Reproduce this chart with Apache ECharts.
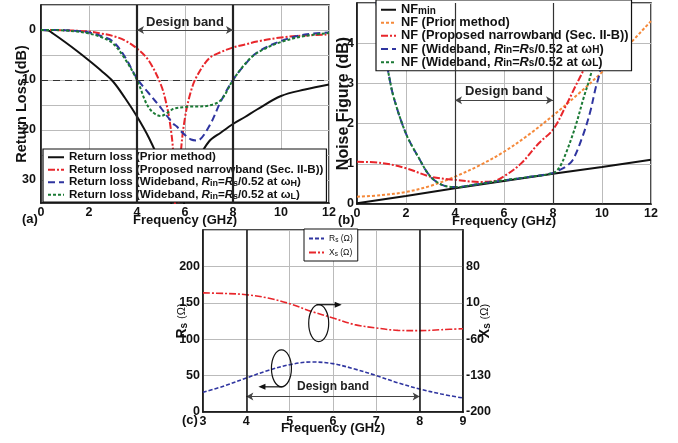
<!DOCTYPE html>
<html>
<head>
<meta charset="utf-8">
<script src="https://cdn.jsdelivr.net/npm/echarts@6/dist/echarts.min.js"></script>
<style>
html, body { margin: 0; padding: 0; background: #fff; }
#chart { width: 678px; height: 443px; }
</style>
</head>
<body>
<div id="chart"></div>
<script>
var FONT = "'Liberation Sans', Arial, sans-serif";

// ---- (a) return loss, dB (positive downwards) ----
var freqA = [0, 0.3, 0.5, 1, 1.5, 2, 2.5, 3, 3.5, 4, 4.5, 5, 5.25, 5.4, 5.5, 5.66, 5.82, 6, 6.25, 6.5, 7, 7.5, 8, 8.5, 9, 10, 11, 12];
var rlPrior  = [0, 0.1, 0.7, 2.4, 4.2, 6.1, 8.1, 10.3, 13.6, 17.3, 21.6, 27, 31, 34, 36, 38, 37, 34, 29.5, 26.3, 22.3, 20.5, 18.8, 17.4, 15.9, 13.2, 11.9, 10.9];
var rlNarrow = [0, 0, 0, 0.05, 0.15, 0.3, 0.7, 1.2, 2.1, 3.7, 6.2, 11, 15.3, 19.5, 24, 42, 25, 17.5, 12.2, 9.2, 5.7, 4.4, 3.5, 2.9, 2.3, 1.5, 1.1, 0.9];
var rlWideH  = [0, 0, 0, 0.05, 0.2, 0.5, 1.2, 2.3, 5.4, 9.7, 12.7, 15.6, 17.2, 18.1, 18.7, 19.3, 20.2, 21.0, 21.9, 22.1, 19.3, 14.2, 10, 6.9, 4.5, 2.2, 0.9, 0.5];
var rlWideL  = [0, 0, 0, 0.1, 0.3, 0.7, 1.4, 2.7, 5.8, 10, 15.6, 17.2, 16.6, 16.1, 15.8, 15.6, 15.5, 15.4, 15.3, 15.3, 15.1, 14.0, 10, 6.8, 4.6, 2.4, 1.2, 0.6];

// ---- (b) noise figure, dB ----
var freqNFmin = [0, 2, 4, 6, 8, 10, 12];
var nfMin     = [0.02, 0.2, 0.39, 0.57, 0.75, 0.92, 1.1];
var freqPrior = [0, 1, 2, 3, 4, 5, 6, 7, 8, 9, 10, 11, 12];
var nfPrior   = [0.18, 0.22, 0.3, 0.45, 0.68, 0.96, 1.3, 1.72, 2.2, 2.72, 3.28, 3.9, 4.55];
var freqNarrow = [0, 1, 2, 3, 4, 5, 5.5, 6, 6.7, 7.4, 8, 8.5, 8.9, 9.3, 9.6, 9.9, 10.2];
var nfNarrow   = [1.05, 1.02, 0.89, 0.68, 0.6, 0.55, 0.56, 0.69, 1.01, 1.5, 1.85, 2.41, 2.91, 3.41, 3.95, 4.6, 5.3];
var freqWideH = [0.7, 0.8, 1.0, 1.28, 1.5, 2, 2.5, 3, 3.5, 4, 5, 6, 7, 8, 8.25, 8.5, 8.8, 9.2, 9.5, 9.75, 9.9, 10.1, 10.3];
var nfWideH   = [5.6, 5.0, 4.2, 3.27, 2.65, 1.75, 1.17, 0.68, 0.47, 0.42, 0.5, 0.59, 0.67, 0.77, 0.84, 0.92, 1.09, 1.67, 2.25, 2.91, 3.24, 4.0, 5.0];
var freqWideL = [0.7, 0.8, 1.0, 1.28, 1.5, 2, 2.5, 3, 3.5, 4, 5, 6, 7, 8, 8.25, 8.5, 8.9, 9.25, 9.55, 9.8, 10.0];
var nfWideL   = [5.6, 5.0, 4.2, 3.27, 2.65, 1.75, 1.17, 0.68, 0.47, 0.42, 0.5, 0.59, 0.67, 0.77, 0.9, 1.22, 1.9, 2.64, 3.24, 4.0, 4.8];

// ---- (c) source impedance ----
var freqC = [3, 3.5, 4, 4.5, 5, 5.5, 6, 6.5, 7, 7.5, 8, 8.5, 9];
var rsOhm = [27, 36, 46.7, 57, 65, 68.7, 66.4, 59, 50, 40, 31.6, 24.7, 19.2];
var xsOhm = [29, 28, 25.6, 19.2, 8.3, -6.5, -19.2, -32, -38.5, -43, -43.6, -41.7, -39.8];

var designBand = [4, 8];

function pairs(xs, ys) {
    return xs.map(function (x, i) { return [x, ys[i]]; });
}

function richName(name) {
    return name
        .replace('Rin', '{it|R}{sub|in}')
        .replace('Rs/', '{it|R}{sub|s}/')
        .replace('ωH', 'ω{sub|H}')
        .replace('ωL', 'ω{sub|L}')
        .replace('NFmin', 'NF{sub|min}');
}

function richStyles(size) {
    return {
        it: { fontStyle: 'italic', fontWeight: 'bold', fontSize: size, fontFamily: FONT, color: '#111' },
        sub: { fontSize: Math.round(size * 0.75), fontWeight: 'bold', fontFamily: FONT, color: '#111',
               verticalAlign: 'bottom', lineHeight: 2, padding: [3, 0, 0, 0] }
    };
}

function line(name, data, color, dash, width, idx, extra) {
    var s = {
        name: name, type: 'line', data: data,
        xAxisIndex: idx, yAxisIndex: idx,
        symbol: 'none', smooth: 0.35, animation: false, silent: true,
        lineStyle: { color: color, type: dash, width: width },
        itemStyle: { color: color }
    };
    for (var k in extra) s[k] = extra[k];
    return s;
}

function bandLines(width, color) {
    return {
        silent: true, symbol: ['none', 'none'], animation: false,
        label: { show: false },
        lineStyle: { color: color, width: width, type: 'solid' },
        data: [{ xAxis: designBand[0] }, { xAxis: designBand[1] }]
    };
}

function bandArrow(yVal, size, dist) {
    return {
        silent: true, symbol: ['arrow', 'arrow'], symbolSize: [6, 7], animation: false,
        lineStyle: { color: '#444', width: 1, type: 'solid' },
        label: { show: true, position: 'middle', distance: dist, formatter: 'Design band',
                 fontFamily: FONT, fontWeight: 'bold', fontSize: size, color: '#222' },
        data: [[{ coord: [designBand[0], yVal] }, { coord: [designBand[1], yVal] }]]
    };
}

var RL_NAMES = ['Return loss (Prior method)', 'Return loss (Proposed narrowband (Sec. II-B))',
                'Return loss (Wideband, Rin=Rs/0.52 at ωH)', 'Return loss (Wideband, Rin=Rs/0.52 at ωL)'];
var NF_NAMES = ['NFmin', 'NF (Prior method)', 'NF (Proposed narrowband (Sec. II-B))',
                'NF (Wideband, Rin=Rs/0.52 at ωH)', 'NF (Wideband, Rin=Rs/0.52 at ωL)'];
var Z_NAMES = ['Rs (Ω)', 'Xs (Ω)'];

var RED = '#e8262b', BLUE = '#2f35a0', GREEN = '#1b7a35', ORANGE = '#f5893a', BLACK = '#111';
var DASHDOT = [7, 2, 2, 2], DASH = [7, 4], SHORT = [3, 2];

var gridLine = { show: true, lineStyle: { color: '#bbb', width: 1 } };
var noSymbol = { color: 'transparent', borderWidth: 0, opacity: 0 };

function xAxisCfg(idx, min, max, interval, gap) {
    return {
        gridIndex: idx, type: 'value', min: min, max: max, interval: interval,
        name: 'Frequency (GHz)', nameLocation: 'middle', nameGap: gap, nameMoveOverlap: false,
        nameTextStyle: { fontFamily: FONT, fontWeight: 'bold', fontSize: 13, color: '#111' },
        axisLine: { show: true, onZero: false, lineStyle: { color: '#111', width: 1.5 } },
        axisTick: { show: false },
        axisLabel: { fontFamily: FONT, fontWeight: 'bold', fontSize: 12.5, color: '#111', margin: 3 },
        splitLine: gridLine
    };
}

function yName(idx, gap, size) {
    return { nameLocation: 'middle', nameGap: gap, nameMoveOverlap: false,
             nameTextStyle: { fontFamily: FONT, fontWeight: 'bold', fontSize: size, color: '#111',
                              rich: { sub: { fontSize: 10, fontWeight: 'bold', verticalAlign: 'bottom', lineHeight: 4, padding: [5, 0, 0, 0] },
                                      om: { fontSize: 11, fontWeight: 'normal' } } } };
}

function yAxisCfg(base, nameOpts) {
    for (var k in nameOpts) base[k] = nameOpts[k];
    base.type = 'value';
    base.axisLine = { show: true, lineStyle: { color: '#111', width: 1.5 } };
    base.axisTick = { show: false };
    return base;
}

var tickFont = { fontFamily: FONT, fontWeight: 'bold', fontSize: 12.5, color: '#111' };

var option = {
    backgroundColor: '#fff',
    textStyle: { fontFamily: FONT },
    grid: [
        { left: 41, top: 5, width: 288, height: 198, show: true, borderColor: '#111', borderWidth: 1.5 },
        { left: 357, top: 3, width: 294, height: 201, show: true, borderColor: '#111', borderWidth: 1.5 },
        { left: 203, top: 230, width: 260, height: 182, show: true, borderColor: '#111', borderWidth: 1.5 }
    ],
    xAxis: [
        xAxisCfg(0, 0, 12, 2, 11),
        xAxisCfg(1, 0, 12, 2, 11),
        xAxisCfg(2, 3, 9, 1, 10)
    ],
    yAxis: [
        yAxisCfg({
            gridIndex: 0, inverse: true, min: -5, max: 34.6, interval: 5, name: 'Return Loss (dB)',
            axisLabel: Object.assign({ margin: 5, formatter: function (v) { return (v >= 0 && v <= 30 && v % 10 === 0) ? v : ''; } }, tickFont),
            splitLine: gridLine
        }, yName(0, 12, 14.5)),
        yAxisCfg({
            gridIndex: 1, min: 0, max: 5, interval: 1, name: 'Noise Figure (dB)',
            axisLabel: Object.assign({ margin: 3, showMaxLabel: false }, tickFont),
            splitLine: gridLine
        }, yName(1, 5, 16)),
        yAxisCfg({
            gridIndex: 2, min: 0, max: 250, interval: 50, name: 'R{sub|s} {om|(Ω)}',
            axisLabel: Object.assign({ margin: 3, showMaxLabel: false }, tickFont),
            splitLine: gridLine
        }, yName(2, 14, 14)),
        yAxisCfg({
            gridIndex: 2, position: 'right', min: -200, max: 150, interval: 70, name: 'X{sub|s} {om|(Ω)}',
            axisLabel: Object.assign({ margin: 3, showMaxLabel: false }, tickFont),
            splitLine: { show: false }
        }, yName(3, 15, 14))
    ],
    legend: [
        {
            data: RL_NAMES, orient: 'vertical', left: 43, top: 149, selectedMode: false,
            backgroundColor: '#fff', borderColor: '#111', borderWidth: 1.2, borderRadius: 0,
            padding: [2, 3, 1, 4], itemGap: 0, itemWidth: 16, itemHeight: 8,
            itemStyle: noSymbol,
            textStyle: { fontFamily: FONT, fontWeight: 'bold', fontSize: 11.6, color: '#111', lineHeight: 12.5, rich: richStyles(11.6) },
            formatter: richName
        },
        {
            data: NF_NAMES, orient: 'vertical', left: 376, top: 0, selectedMode: false,
            backgroundColor: '#fff', borderColor: '#111', borderWidth: 1.2, borderRadius: 0,
            padding: [3, 3, 2, 4], itemGap: 0, itemWidth: 15, itemHeight: 8,
            itemStyle: noSymbol,
            textStyle: { fontFamily: FONT, fontWeight: 'bold', fontSize: 12.8, color: '#111', lineHeight: 12.5, rich: richStyles(12.8) },
            formatter: richName
        },
        {
            data: Z_NAMES, orient: 'vertical', left: 304, top: 229, selectedMode: false,
            backgroundColor: '#fff', borderColor: '#111', borderWidth: 1, borderRadius: 0,
            padding: [4, 5, 3, 4], itemGap: 3, itemWidth: 15, itemHeight: 8,
            itemStyle: noSymbol,
            textStyle: { fontFamily: FONT, fontSize: 8.5, color: '#111', lineHeight: 11,
                         rich: { sub: { fontSize: 6.5, verticalAlign: 'bottom', lineHeight: 3, padding: [4, 0, 0, 0] } } },
            formatter: function (n) { return n.charAt(0) + '{sub|s}' + n.slice(2); }
        }
    ],
    series: [
        // (a)
        line(RL_NAMES[0], pairs(freqA, rlPrior), BLACK, 'solid', 2, 0, {
            markLine: {
                silent: true, symbol: ['none', 'none'], animation: false, label: { show: false },
                data: [
                    { xAxis: designBand[0], lineStyle: { color: '#222', width: 2.2, type: 'solid' } },
                    { xAxis: designBand[1], lineStyle: { color: '#222', width: 2.2, type: 'solid' } },
                    { yAxis: 10, lineStyle: { color: '#333', width: 1, type: [7, 5] } }
                ]
            }
        }),
        line(RL_NAMES[1], pairs(freqA, rlNarrow), RED, DASHDOT, 2, 0, { markLine: bandArrow(0, 13, 1) }),
        line(RL_NAMES[2], pairs(freqA, rlWideH), BLUE, DASH, 2, 0, {}),
        line(RL_NAMES[3], pairs(freqA, rlWideL), GREEN, SHORT, 2, 0, {}),
        // (b)
        line(NF_NAMES[0], pairs(freqNFmin, nfMin), BLACK, 'solid', 2, 1, { smooth: false, markLine: bandLines(1.2, '#333') }),
        line(NF_NAMES[1], pairs(freqPrior, nfPrior), ORANGE, SHORT, 2, 1, { markLine: bandArrow(2.58, 13, 2) }),
        line(NF_NAMES[2], pairs(freqNarrow, nfNarrow), RED, DASHDOT, 2, 1, {}),
        line(NF_NAMES[3], pairs(freqWideH, nfWideH), BLUE, DASH, 2, 1, {}),
        line(NF_NAMES[4], pairs(freqWideL, nfWideL), GREEN, SHORT, 2, 1, {}),
        // (c)
        line(Z_NAMES[0], pairs(freqC, rsOhm), BLUE, [4, 2], 1.6, 2, { markLine: bandArrow(21.4, 12, 4) }),
        {
            name: Z_NAMES[1], type: 'line', data: pairs(freqC, xsOhm), xAxisIndex: 2, yAxisIndex: 3,
            symbol: 'none', smooth: 0.35, animation: false, silent: true,
            lineStyle: { color: RED, type: DASHDOT, width: 1.6 }, itemStyle: { color: RED },
            markLine: bandLines(1.5, '#111')
        }
    ]
};

var chart = echarts.init(document.getElementById('chart'));
chart.setOption(option);

// ellipse call-outs on panel (c), anchored to data positions
var ellipseXs = [5.67, 122];
var ellipseRs = [4.81, 60];

function arrow(x1, y1, x2) {
    var dir = x2 > x1 ? 1 : -1;
    return [
        { type: 'line', z: 100, shape: { x1: x1, y1: y1, x2: x2 - dir * 5, y2: y1 }, style: { stroke: '#111', lineWidth: 1.2 } },
        { type: 'polygon', z: 100, shape: { points: [[x2, y1], [x2 - dir * 7, y1 - 3], [x2 - dir * 7, y1 + 3]] }, style: { fill: '#111' } }
    ];
}

var e1 = chart.convertToPixel({ xAxisIndex: 2, yAxisIndex: 2 }, ellipseXs);
var e2 = chart.convertToPixel({ xAxisIndex: 2, yAxisIndex: 2 }, ellipseRs);
var rx = 10, ry = 18.5;
var graphics = [
    { type: 'ellipse', z: 100, shape: { cx: e1[0], cy: e1[1], rx: rx, ry: ry }, style: { fill: null, stroke: '#111', lineWidth: 1.2 } },
    { type: 'ellipse', z: 100, shape: { cx: e2[0], cy: e2[1], rx: rx, ry: ry }, style: { fill: null, stroke: '#111', lineWidth: 1.2 } }
].concat(arrow(e1[0] - 2, e1[1] - ry, e1[0] + 23))
 .concat(arrow(e2[0] + 1, e2[1] + ry, e2[0] - 23))
 .concat([
    { type: 'text', z: 100, left: 22, top: 213, style: { text: '(a)', font: 'bold 13px ' + FONT, fill: '#111' } },
    { type: 'text', z: 100, left: 338, top: 214, style: { text: '(b)', font: 'bold 13px ' + FONT, fill: '#111' } },
    { type: 'text', z: 100, left: 182, top: 414, style: { text: '(c)', font: 'bold 13px ' + FONT, fill: '#111' } }
 ]);
chart.setOption({ graphic: graphics });
</script>
</body>
</html>
